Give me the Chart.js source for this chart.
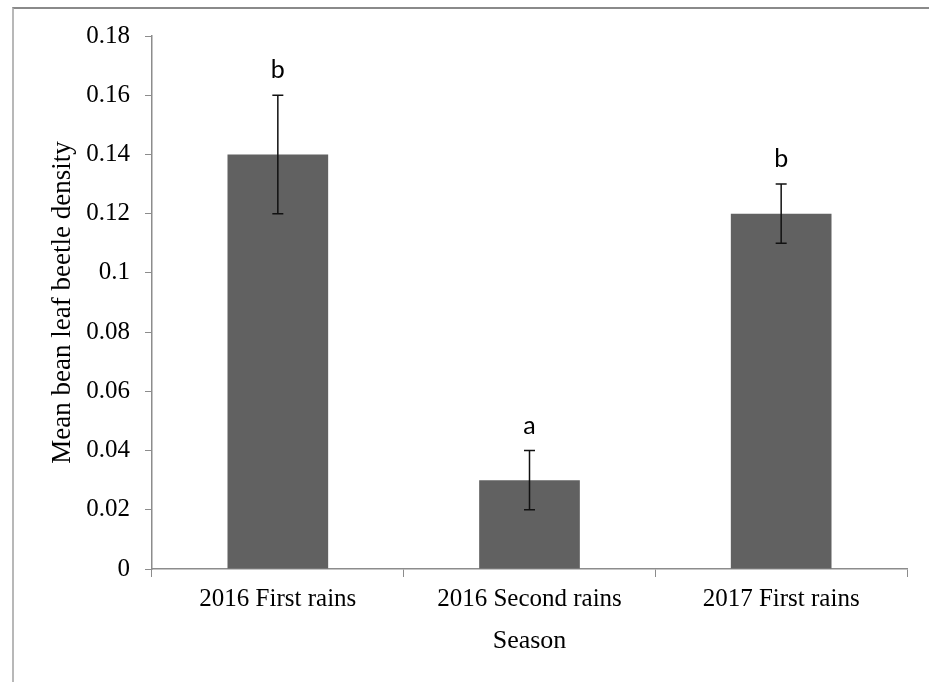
<!DOCTYPE html>
<html>
<head>
<meta charset="utf-8">
<script src="https://cdn.jsdelivr.net/npm/chart.js@4/dist/chart.umd.min.js"></script>
<style>
  body { margin: 0; background: #fff; }
  #wrap { position: relative; width: 929px; height: 682px; }
  #frame { position: absolute; left: 12px; top: 7px; right: 0; bottom: 0;
    border-left: 2px solid #b8b8b8; border-top: 2px solid #8a8a8a; }
  canvas { position: absolute; left: 0; top: 0; }
</style>
</head>
<body>
<div id="wrap">
  <div id="frame"></div>
  <canvas id="bar-chart" width="929" height="682"></canvas>
</div>
<script>
var seasons = ["2016 First rains", "2016 Second rains", "2017 First rains"];
var meanDensity = [0.14, 0.03, 0.12];
var errLow = [0.12, 0.02, 0.11];
var errHigh = [0.16, 0.04, 0.13];
var letters = ["b", "a", "b"];
var yTicks = [0, 0.02, 0.04, 0.06, 0.08, 0.1, 0.12, 0.14, 0.16, 0.18];

var serif = "'Liberation Serif', 'Times New Roman', serif";

// error bars + significance letters
var errorBars = {
  id: "errorBars",
  afterDatasetsDraw: function(chart) {
    var ctx = chart.ctx;
    var x = chart.scales.x, y = chart.scales.y;
    ctx.save();
    ctx.strokeStyle = "#111";
    ctx.lineWidth = 1.5;
    for (var i = 0; i < seasons.length; i++) {
      var px = x.getPixelForValue(i);
      var lo = y.getPixelForValue(errLow[i]);
      var hi = y.getPixelForValue(errHigh[i]);
      ctx.beginPath();
      ctx.moveTo(px, lo); ctx.lineTo(px, hi);
      ctx.moveTo(px - 5.5, lo); ctx.lineTo(px + 5.5, lo);
      ctx.moveTo(px - 5.5, hi); ctx.lineTo(px + 5.5, hi);
      ctx.stroke();
      ctx.fillStyle = "#000";
      ctx.font = "25px Lato, 'Liberation Sans', sans-serif";
      ctx.textAlign = "center";
      ctx.textBaseline = "middle";
      ctx.fillText(letters[i], px, hi - 25);
    }
    ctx.restore();
  }
};

new Chart(document.getElementById("bar-chart"), {
  type: "bar",
  data: {
    labels: seasons,
    datasets: [
      {
        data: meanDensity,
        backgroundColor: "#616161",
        borderWidth: 0,
        barPercentage: 0.4,
        categoryPercentage: 1
      }
    ]
  },
  options: {
    responsive: false,
    animation: false,
    devicePixelRatio: 1,
    layout: { padding: { left: 0, top: 36, right: 22, bottom: 0 } },
    plugins: { legend: { display: false }, tooltip: { enabled: false } },
    scales: {
      x: {
        grid: { offset: true, drawOnChartArea: false, drawTicks: true, tickLength: 8, color: "#8c8c8c" },
        border: { color: "#8c8c8c", width: 1.5 },
        ticks: { color: "#000", padding: 7, font: { family: serif, size: 25 } },
        title: {
          display: true, text: "Season", color: "#000",
          font: { family: serif, size: 26 }, padding: { top: 0, bottom: 25 }
        },
        afterFit: function(scale) { scale.height = 682 - 569; }
      },
      y: {
        min: 0,
        max: 0.18,
        afterBuildTicks: function(scale) {
          scale.ticks = yTicks.map(function(v) { return { value: v }; });
        },
        grid: { drawOnChartArea: false, drawTicks: true, tickLength: 7, color: "#8c8c8c" },
        border: { color: "#8c8c8c", width: 1.5 },
        ticks: {
          color: "#000", padding: 15, font: { family: serif, size: 25 },
          callback: function(v) { return String(+v.toFixed(2)); }
        },
        title: {
          display: true, text: "Mean bean leaf beetle density", color: "#000",
          font: { family: serif, size: 27 }, padding: { top: 47, bottom: 0 }
        },
        afterFit: function(scale) { scale.width = 152; }
      }
    }
  },
  plugins: [errorBars]
});
</script>
</body>
</html>
